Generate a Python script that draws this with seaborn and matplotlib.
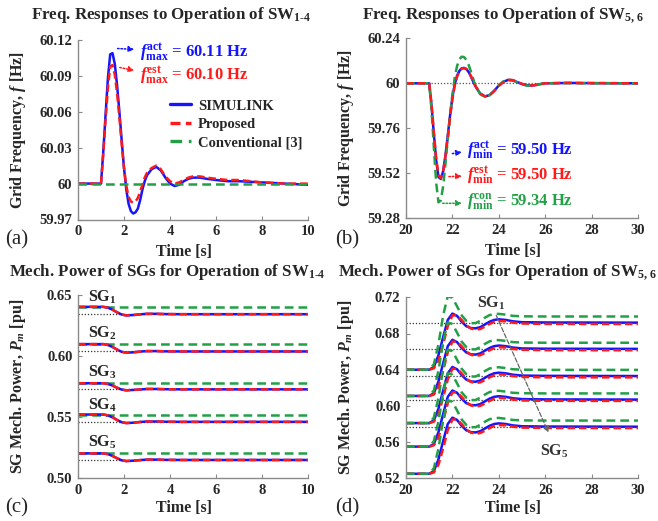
import matplotlib
matplotlib.use("Agg")
import matplotlib.pyplot as plt
import seaborn as sns

# ---------------- (a) frequency, SW1-4 ----------------
t_a = [0, 1.0, 1.1, 1.2, 1.3, 1.4, 1.5, 1.6, 1.7, 1.8, 1.9, 2.0, 2.1, 2.2, 2.3, 2.4,
       2.5, 2.6, 2.7, 2.8, 2.9, 3.0, 3.2, 3.4, 3.6, 3.8, 4.0, 4.2, 4.4, 4.6, 4.8, 5.0,
       5.3, 5.6, 6.0, 6.5, 7.0, 8.0, 9.0, 10.0]
f_sim_a = [60.000, 60.000, 60.027, 60.058, 60.088, 60.108, 60.109, 60.100, 60.082, 60.060,
           60.036, 60.013, 59.995, 59.983, 59.977, 59.975, 59.976, 59.979, 59.986, 59.995,
           60.002, 60.007, 60.012, 60.014, 60.011, 60.005, 60.000, 59.998, 59.999, 60.002,
           60.004, 60.005, 60.005, 60.004, 60.003, 60.002, 60.002, 60.001, 60.000, 59.999]
f_prop_a = [60.000, 60.000, 60.025, 60.054, 60.080, 60.098, 60.099, 60.091, 60.075, 60.055,
            60.033, 60.013, 59.998, 59.989, 59.985, 59.984, 59.985, 59.988, 59.993, 59.999,
            60.005, 60.009, 60.013, 60.015, 60.012, 60.006, 60.002, 60.000, 60.001, 60.003,
            60.005, 60.006, 60.006, 60.005, 60.004, 60.003, 60.003, 60.001, 60.000, 60.000]
t_conv_a = [0, 10]
f_conv_a = [60.0, 60.0]

# ---------------- (b) frequency, SW5,6 ----------------
t_b = [20, 21.0, 21.1, 21.2, 21.3, 21.4, 21.5, 21.6, 21.7, 21.8, 21.9, 22.0, 22.1, 22.2,
       22.3, 22.4, 22.5, 22.6, 22.7, 22.8, 22.9, 23.0, 23.2, 23.4, 23.6, 23.8, 24.0, 24.2,
       24.4, 24.6, 24.8, 25.0, 25.2, 25.4, 25.6, 25.8, 26.0, 27.0, 28.0, 30.0]
f_sim_b = [60.000, 60.000, 59.880, 59.730, 59.590, 59.500, 59.490, 59.530, 59.615, 59.720,
           59.830, 59.925, 59.995, 60.040, 60.066, 60.080, 60.082, 60.076, 60.060, 60.036,
           60.008, 59.982, 59.945, 59.930, 59.937, 59.960, 59.988, 60.008, 60.018, 60.016,
           60.006, 59.996, 59.990, 59.988, 59.991, 59.996, 60.000, 60.002, 60.001, 60.000]
f_prop_b = [60.000, 60.000, 59.890, 59.740, 59.600, 59.510, 59.495, 59.530, 59.610, 59.712,
            59.820, 59.915, 59.988, 60.035, 60.063, 60.078, 60.081, 60.077, 60.062, 60.039,
            60.011, 59.985, 59.946, 59.930, 59.936, 59.958, 59.986, 60.007, 60.018, 60.017,
            60.007, 59.997, 59.990, 59.988, 59.991, 59.996, 60.000, 60.002, 60.001, 60.000]
f_conv_b = [60.000, 60.000, 59.860, 59.660, 59.470, 59.365, 59.375, 59.450, 59.570, 59.700,
            59.830, 59.940, 60.030, 60.092, 60.128, 60.142, 60.140, 60.125, 60.098, 60.062,
            60.022, 59.985, 59.942, 59.928, 59.936, 59.960, 59.990, 60.010, 60.020, 60.016,
            60.005, 59.995, 59.988, 59.987, 59.991, 59.996, 60.000, 60.001, 60.000, 60.000]

# ---------------- (c) mechanical power, SW1-4 ----------------
t_c = [0, 1.1, 1.3, 1.5, 1.7, 1.9, 2.1, 2.4, 2.7, 3.0, 3.4, 3.8, 4.5, 10]
pm_sim_c = [
    [0.6403, 0.6403, 0.6396, 0.6380, 0.6358, 0.6340, 0.6333, 0.6336, 0.6342, 0.6346, 0.6346, 0.6344, 0.6343, 0.6343],
    [0.6098, 0.6098, 0.6091, 0.6075, 0.6053, 0.6035, 0.6028, 0.6031, 0.6037, 0.6041, 0.6041, 0.6039, 0.6038, 0.6038],
    [0.5778, 0.5778, 0.5772, 0.5759, 0.5741, 0.5726, 0.5720, 0.5723, 0.5727, 0.5731, 0.5731, 0.5729, 0.5728, 0.5728],
    [0.5522, 0.5522, 0.5515, 0.5499, 0.5477, 0.5459, 0.5452, 0.5455, 0.5461, 0.5465, 0.5465, 0.5463, 0.5462, 0.5462],
    [0.5204, 0.5204, 0.5198, 0.5183, 0.5164, 0.5147, 0.5141, 0.5144, 0.5149, 0.5153, 0.5153, 0.5151, 0.5150, 0.5150],
]
# proposed estimate coincides with SIMULINK in (c)
pm_prop_c = pm_sim_c
pm_conv_c = [0.6403, 0.6098, 0.5778, 0.5522, 0.5204]
pm_final_c = [0.6343, 0.6038, 0.5728, 0.5462, 0.5150]
sg_names = ["SG$_1$", "SG$_2$", "SG$_3$", "SG$_4$", "SG$_5$"]
sg_label_y_c = [0.6484, 0.6189, 0.5870, 0.5600, 0.5297]

# ---------------- (d) mechanical power, SW5,6 ----------------
t_d = [20, 21.0, 21.2, 21.4, 21.6, 21.8, 22.0, 22.2, 22.4, 22.6, 22.8, 23.0, 23.2, 23.4,
       23.6, 23.8, 24.0, 24.3, 24.6, 25.0, 26.0, 30]
pm_sim_d = [
    [0.640, 0.640, 0.643, 0.656, 0.676, 0.695, 0.702, 0.6995, 0.693, 0.688, 0.686, 0.6857, 0.687, 0.690, 0.693, 0.695, 0.6957, 0.695, 0.6935, 0.6925, 0.6922, 0.692],
    [0.611, 0.611, 0.614, 0.627, 0.647, 0.666, 0.673, 0.6705, 0.664, 0.659, 0.657, 0.6567, 0.658, 0.661, 0.664, 0.666, 0.6667, 0.666, 0.6645, 0.6635, 0.6632, 0.663],
    [0.581, 0.581, 0.584, 0.597, 0.617, 0.636, 0.643, 0.6405, 0.634, 0.629, 0.627, 0.6267, 0.628, 0.631, 0.634, 0.636, 0.6367, 0.636, 0.6345, 0.6335, 0.6332, 0.633],
    [0.555, 0.555, 0.558, 0.571, 0.591, 0.610, 0.617, 0.6145, 0.608, 0.603, 0.601, 0.6007, 0.602, 0.605, 0.608, 0.610, 0.6107, 0.610, 0.6085, 0.6075, 0.6072, 0.607],
    [0.525, 0.525, 0.528, 0.541, 0.561, 0.580, 0.587, 0.5845, 0.578, 0.573, 0.571, 0.5707, 0.572, 0.575, 0.578, 0.580, 0.5807, 0.580, 0.5785, 0.5775, 0.5772, 0.577],
]
pm_prop_d = [
    [0.640, 0.640, 0.6415, 0.650, 0.668, 0.688, 0.700, 0.700, 0.695, 0.689, 0.6855, 0.6843, 0.685, 0.6875, 0.6905, 0.6928, 0.6938, 0.6935, 0.692, 0.691, 0.6906, 0.6905],
    [0.611, 0.611, 0.6125, 0.621, 0.639, 0.659, 0.671, 0.671, 0.666, 0.660, 0.6565, 0.6553, 0.656, 0.6585, 0.6615, 0.6638, 0.6648, 0.6645, 0.663, 0.662, 0.6616, 0.6615],
    [0.581, 0.581, 0.5825, 0.591, 0.609, 0.629, 0.641, 0.641, 0.636, 0.630, 0.6265, 0.6253, 0.626, 0.6285, 0.6315, 0.6338, 0.6348, 0.6345, 0.633, 0.632, 0.6316, 0.6315],
    [0.555, 0.555, 0.5565, 0.565, 0.583, 0.603, 0.615, 0.615, 0.610, 0.604, 0.6005, 0.5993, 0.600, 0.6025, 0.6055, 0.6078, 0.6088, 0.6085, 0.607, 0.606, 0.6056, 0.6055],
    [0.525, 0.525, 0.5265, 0.535, 0.553, 0.573, 0.585, 0.585, 0.580, 0.574, 0.5705, 0.5693, 0.570, 0.5725, 0.5755, 0.5778, 0.5788, 0.5785, 0.577, 0.576, 0.5756, 0.5755],
]
pm_conv_d = [
    [0.640, 0.640, 0.646, 0.668, 0.700, 0.7212, 0.7195, 0.710, 0.700, 0.694, 0.6915, 0.6915, 0.694, 0.6975, 0.7003, 0.7015, 0.7017, 0.7008, 0.6995, 0.699, 0.6988, 0.6988],
    [0.611, 0.611, 0.617, 0.639, 0.671, 0.6922, 0.6905, 0.681, 0.671, 0.665, 0.6625, 0.6625, 0.665, 0.6685, 0.6713, 0.6725, 0.6727, 0.6718, 0.6705, 0.670, 0.6698, 0.6698],
    [0.581, 0.581, 0.587, 0.609, 0.641, 0.6622, 0.6605, 0.651, 0.641, 0.635, 0.6325, 0.6325, 0.635, 0.6385, 0.6413, 0.6425, 0.6427, 0.6418, 0.6405, 0.640, 0.6398, 0.6398],
    [0.555, 0.555, 0.561, 0.583, 0.615, 0.6362, 0.6345, 0.625, 0.615, 0.609, 0.6065, 0.6065, 0.609, 0.6125, 0.6153, 0.6165, 0.6167, 0.6158, 0.6145, 0.614, 0.6138, 0.6138],
    [0.525, 0.525, 0.531, 0.553, 0.585, 0.6062, 0.6045, 0.595, 0.585, 0.579, 0.5765, 0.5765, 0.579, 0.5825, 0.5853, 0.5865, 0.5867, 0.5858, 0.5845, 0.584, 0.5838, 0.5838],
]
pm_final_d = [0.692, 0.663, 0.633, 0.607, 0.577]

# ---------------- style ----------------
sns.set_style("white")
plt.rcParams['font.family'] = ['Liberation Serif', 'DejaVu Serif']
plt.rcParams['font.weight'] = 'bold'
plt.rcParams['axes.labelweight'] = 'bold'
plt.rcParams['mathtext.fontset'] = 'custom'
plt.rcParams['mathtext.rm'] = 'Liberation Serif:bold'
plt.rcParams['mathtext.it'] = 'Liberation Serif:italic:bold'
plt.rcParams['mathtext.bf'] = 'Liberation Serif:bold'

BLUE = '#1414ff'
RED = '#ff1a1a'
GREEN = '#22a046'
LW = 1.8

W, H = 658, 521
fig = plt.figure(figsize=(W / 100, H / 100), dpi=100)


def px_axes(left, right, top, bottom):
    return fig.add_axes([left / W, 1 - bottom / H, (right - left) / W, (bottom - top) / H])


def style(ax, xticks, yticks, yticklabels, ylabel, xlab_y):
    for s in ['top', 'right']:
        ax.spines[s].set_visible(False)
    for s in ['left', 'bottom']:
        ax.spines[s].set_color('#8a8a8a')
        ax.spines[s].set_linewidth(1.0)
    ax.set_xlim(xticks[0], xticks[-1])
    ax.set_ylim(yticks[0], yticks[-1])
    ax.set_xticks(xticks)
    ax.set_xticklabels([str(v) for v in xticks])
    ax.set_yticks(yticks)
    ax.set_yticklabels(yticklabels)
    ax.tick_params(direction='in', length=3, color='#8a8a8a', labelsize=10.5, pad=4,
                   bottom=True, left=True)
    ax.set_xlabel('Time [s]', fontsize=11.5, va='center')
    ax.set_ylabel(ylabel, fontsize=11.5, va='center')
    ax.xaxis.set_label_coords(0.46, xlab_y)
    ax.yaxis.set_label_coords(-0.26, 0.5)


def line(ax, x, y, color, ls='-', label=None, lw=LW):
    kw = dict(x=x, y=y, ax=ax, color=color, lw=lw, estimator=None, sort=False, legend=False)
    if ls == '-':
        sns.lineplot(**kw, label=label)
    else:
        sns.lineplot(**kw, label=label, linestyle='--', dashes=False)
        ax.lines[-1].set_dashes(ls)


ax_a = px_axes(78, 308, 40, 219.5)
ax_b = px_axes(406, 638, 38.3, 218.3)
ax_c = px_axes(78, 308, 295, 478.3)
ax_d = px_axes(406, 638, 297.3, 478.3)

# ----- (a) -----
line(ax_a, t_a, f_sim_a, BLUE, label='SIMULINK')
line(ax_a, t_a, f_prop_a, RED, ls=(3, 1.6), label='Proposed')
line(ax_a, t_conv_a, f_conv_a, GREEN, ls=(3.5, 2), label='Conventional [3]')
style(ax_a, [0, 2, 4, 6, 8, 10], [59.97, 60.0, 60.03, 60.06, 60.09, 60.12],
      ['59.97', '60', '60.03', '60.06', '60.09', '60.12'], r'Grid Frequency, $f$ [Hz]', -0.18)
leg = ax_a.legend(loc='upper left', bbox_to_anchor=(0.37, 0.71), frameon=False, fontsize=10.5,
                  handlelength=1.4, handletextpad=0.5, labelspacing=0.35, borderpad=0)
for h in leg.get_lines():
    h.set_linewidth(2.4)
arr = dict(arrowstyle='-|>', linestyle=(0, (1, 1.2)), lw=1.1, mutation_scale=8)
ax_a.annotate('', xy=(2.57, 60.112), xytext=(1.6, 60.113), arrowprops=dict(arr, color=BLUE))
ax_a.annotate('', xy=(2.57, 60.094), xytext=(1.7, 60.0975), arrowprops=dict(arr, color=RED))
ax_a.text(2.68, 60.110, r'$f_{\rm max}^{\rm act}$ = 60.11 Hz', color=BLUE, fontsize=12, va='center')
ax_a.text(2.68, 60.091, r'$f_{\rm max}^{\rm est}$ = 60.10 Hz', color=RED, fontsize=12, va='center')

# ----- (b) -----
ax_b.hlines([60.0], 20, 30, colors='#555555', linestyles=(0, (1, 1.5)), lw=0.9)
line(ax_b, t_b, f_sim_b, BLUE)
line(ax_b, t_b, f_conv_b, GREEN, ls=(3.5, 2))
line(ax_b, t_b, f_prop_b, RED, ls=(3, 1.6))
style(ax_b, [20, 22, 24, 26, 28, 30], [59.28, 59.52, 59.76, 60.0, 60.24],
      ['59.28', '59.52', '59.76', '60', '60.24'], r'Grid Frequency, $f$ [Hz]', -0.18)
ax_b.annotate('', xy=(22.53, 59.635), xytext=(21.88, 59.623), arrowprops=dict(arr, color=BLUE))
ax_b.annotate('', xy=(22.53, 59.505), xytext=(21.73, 59.502), arrowprops=dict(arr, color=RED))
ax_b.annotate('', xy=(22.53, 59.36), xytext=(21.46, 59.36), arrowprops=dict(arr, color=GREEN))
ax_b.text(22.62, 59.64, r'$f_{\rm min}^{\rm act}$ = 59.50 Hz', color=BLUE, fontsize=12, va='center')
ax_b.text(22.62, 59.507, r'$f_{\rm min}^{\rm est}$ = 59.50 Hz', color=RED, fontsize=12, va='center')
ax_b.text(22.62, 59.368, r'$f_{\rm min}^{\rm con}$ = 59.34 Hz', color=GREEN, fontsize=12, va='center')

# ----- (c) -----
ax_c.hlines(pm_final_c, 0, 10, colors='#333333', linestyles=(0, (1, 1.5)), lw=0.9)
for k in range(5):
    line(ax_c, [0, 10], [pm_conv_c[k]] * 2, GREEN, ls=(3.5, 2))
    line(ax_c, t_c, pm_sim_c[k], BLUE)
    line(ax_c, t_c, pm_prop_c[k], RED, ls=(3, 1.6))
    ax_c.text(0.43, sg_label_y_c[k], sg_names[k], fontsize=11.5, va='center')
style(ax_c, [0, 2, 4, 6, 8, 10], [0.50, 0.55, 0.60, 0.65],
      ['0.50', '0.55', '0.60', '0.65'], r'SG Mech. Power, $P_m$ [pu]', -0.162)

# ----- (d) -----
ax_d.hlines(pm_final_d, 20, 30, colors='#333333', linestyles=(0, (1, 1.5)), lw=0.9)
for k in range(5):
    line(ax_d, t_d, pm_sim_d[k], BLUE)
    line(ax_d, t_d, pm_prop_d[k], RED, ls=(3, 1.6))
    line(ax_d, t_d, pm_conv_d[k], GREEN, ls=(3.5, 2))
style(ax_d, [20, 22, 24, 26, 28, 30], [0.52, 0.56, 0.60, 0.64, 0.68, 0.72],
      ['0.52', '0.56', '0.60', '0.64', '0.68', '0.72'], r'SG Mech. Power, $P_m$ [pu]', -0.164)
ax_d.annotate('', xy=(26.19, 0.5678), xytext=(23.84, 0.7027),
              arrowprops=dict(arrowstyle='-|>', linestyle='--', lw=0.9, color='#666666',
                              mutation_scale=8))
ax_d.text(23.66, 0.7134, 'SG$_1$', fontsize=11.5, ha='center', va='center', color='#333333')
ax_d.text(26.4, 0.5494, 'SG$_5$', fontsize=11.5, ha='center', va='center', color='#333333')

# ----- titles and panel tags -----
fig.text(171 / W, 1 - 15 / H, r'Freq. Responses to Operation of SW$_{1\text{-}4}$',
         ha='center', va='center', fontsize=12.2)
fig.text(503 / W, 1 - 15 / H, r'Freq. Responses to Operation of SW$_{5,\,6}$',
         ha='center', va='center', fontsize=12.2)
fig.text(167 / W, 1 - 272 / H, r'Mech. Power of SGs for Operation of SW$_{1\text{-}4}$',
         ha='center', va='center', fontsize=12.2)
fig.text(497 / W, 1 - 272 / H, r'Mech. Power of SGs for Operation of SW$_{5,\,6}$',
         ha='center', va='center', fontsize=12.2)
for tag, x, y in [('(a)', 5, 240), ('(b)', 335, 240), ('(c)', 5, 508), ('(d)', 335, 508)]:
    fig.text(x / W, 1 - y / H, tag, ha='left', va='center', fontsize=15, fontweight='normal')

fig.savefig('out.png', dpi=100)
